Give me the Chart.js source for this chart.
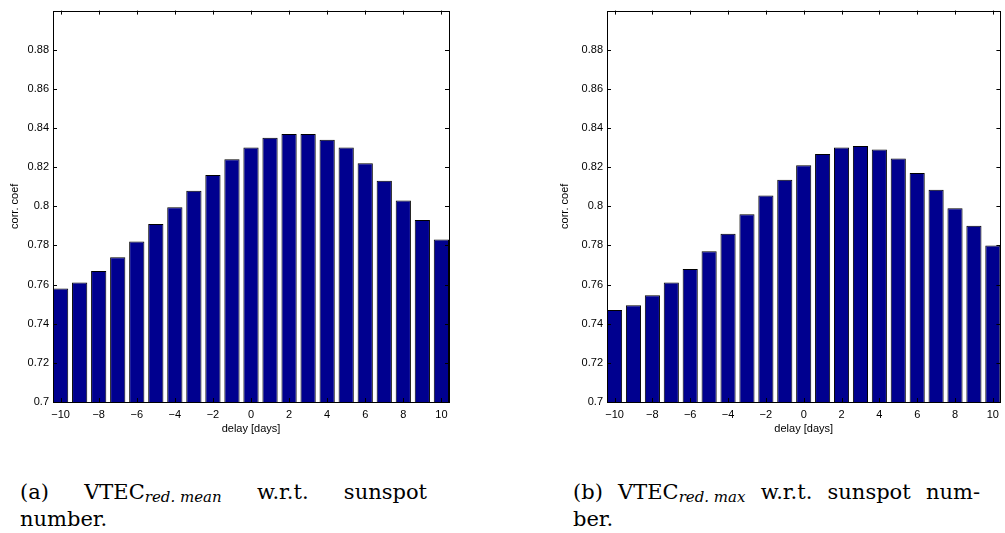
<!DOCTYPE html>
<html>
<head>
<meta charset="utf-8">
<script src="https://cdn.jsdelivr.net/npm/chart.js@4/dist/chart.umd.min.js"></script>
<style>
  body { margin: 0; background: #fff; width: 1005px; height: 533px; overflow: hidden; position: relative; }
  .plot { position: absolute; top: 0; }
  .cap { position: absolute; width: 407px; font-family: "DejaVu Serif", serif; font-size: 21px; line-height: 27px; color: #000; }
  .cap .l1 { text-align: justify; text-align-last: justify; }
  .cap sub { display: inline-block; white-space: nowrap; font-style: italic; font-size: 15px; vertical-align: -3px; line-height: 0; }
</style>
</head>
<body>
<div class="plot" style="left:0px"><canvas id="chartA" width="460" height="440"></canvas></div>
<div class="plot" style="left:550px"><canvas id="chartB" width="455" height="440"></canvas></div>

<div class="cap" style="left:20px; top:479px">
  <div class="l1">(a) VTEC<sub>red. mean</sub> w.r.t. sunspot</div>
  <div>number.</div>
</div>
<div class="cap" style="left:573px; top:479px">
  <div class="l1">(b) VTEC<sub>red. max</sub> w.r.t. sunspot num-</div>
  <div>ber.</div>
</div>

<script>
// delay in days and correlation coefficients
const delays = [-10, -9, -8, -7, -6, -5, -4, -3, -2, -1, 0, 1, 2, 3, 4, 5, 6, 7, 8, 9, 10];
const corrMean = [0.758, 0.761, 0.767, 0.774, 0.782, 0.791, 0.7995, 0.808, 0.816, 0.824, 0.830,
                  0.835, 0.837, 0.837, 0.834, 0.830, 0.822, 0.813, 0.803, 0.793, 0.783];
const corrMax = [0.747, 0.7495, 0.7545, 0.761, 0.768, 0.777, 0.786, 0.796, 0.8055, 0.8136, 0.821,
                 0.8267, 0.830, 0.8308, 0.829, 0.8244, 0.817, 0.8085, 0.799, 0.790, 0.780];
const yTicks = [0.7, 0.72, 0.74, 0.76, 0.78, 0.8, 0.82, 0.84, 0.86, 0.88];
const xLabel = 'delay [days]';
const yLabel = 'corr. coef';

const font = { family: '"Liberation Sans", Arial, sans-serif', size: 11 };

// matlab style box with inward ticks on all four sides
const boxTicks = {
    id: 'boxTicks',
    afterDraw(chart) {
        const ctx = chart.ctx;
        const a = chart.chartArea;
        const xs = chart.scales.x;
        const ys = chart.scales.y;
        const len = 4;
        ctx.save();
        ctx.strokeStyle = '#000';
        ctx.lineWidth = 1;
        ctx.beginPath();
        xs.ticks.forEach(t => {
            const px = Math.round(xs.getPixelForValue(t.value)) + 0.5;
            ctx.moveTo(px, a.bottom); ctx.lineTo(px, a.bottom - len);
            ctx.moveTo(px, a.top); ctx.lineTo(px, a.top + len);
        });
        ys.ticks.forEach(t => {
            const py = Math.round(ys.getPixelForValue(t.value)) + 0.5;
            ctx.moveTo(a.left, py); ctx.lineTo(a.left + len, py);
            ctx.moveTo(a.right, py); ctx.lineTo(a.right - len, py);
        });
        ctx.stroke();
        ctx.strokeRect(Math.round(a.left) + 0.5, Math.round(a.top) + 0.5,
                       Math.round(a.right - a.left), Math.round(a.bottom - a.top));
        ctx.restore();
    }
};

function makeChart(id, values, yWidth, padRight) {
    const ctx = document.getElementById(id).getContext('2d');
    return new Chart(ctx, {
        type: 'bar',
        data: {
            datasets: [{
                data: delays.map((d, i) => ({ x: d, y: values[i] })),
                backgroundColor: 'rgb(0, 0, 143)',
                borderColor: '#000',
                borderWidth: 1,
                barPercentage: 0.8,
                categoryPercentage: 1.0
            }]
        },
        options: {
            responsive: false,
            animation: false,
            devicePixelRatio: 1,
            layout: { padding: { top: 6, right: padRight, left: 0, bottom: 0 } },
            plugins: { legend: { display: false }, tooltip: { enabled: false } },
            scales: {
                x: {
                    type: 'linear',
                    min: -10.4,
                    max: 10.4,
                    offset: false,
                    grid: { display: false, drawTicks: false, offset: false },
                    border: { display: false },
                    ticks: {
                        stepSize: 2,
                        includeBounds: false,
                        padding: 6,
                        maxRotation: 0,
                        color: '#000',
                        font: font,
                        callback: v => (v < 0 ? '\u2212' + Math.abs(v) : String(v))
                    },
                    title: { display: true, text: xLabel, color: '#000', font: font, padding: { top: 0, bottom: 4 } },
                    afterFit: s => { s.height = 38; }
                },
                y: {
                    min: 0.7,
                    max: 0.9,
                    grid: { display: false, drawTicks: false },
                    border: { display: false },
                    afterBuildTicks: s => { s.ticks = yTicks.map(v => ({ value: v })); },
                    ticks: {
                        padding: 4,
                        color: '#000',
                        font: font,
                        callback: v => String(parseFloat(v.toFixed(2)))
                    },
                    title: { display: true, text: yLabel, color: '#000', font: font, padding: { top: 8, bottom: 0 } },
                    afterFit: s => { s.width = yWidth; }
                }
            }
        },
        plugins: [boxTicks]
    });
}

makeChart('chartA', corrMean, 53, 11);
makeChart('chartB', corrMax, 57, 2);
</script>
</body>
</html>
